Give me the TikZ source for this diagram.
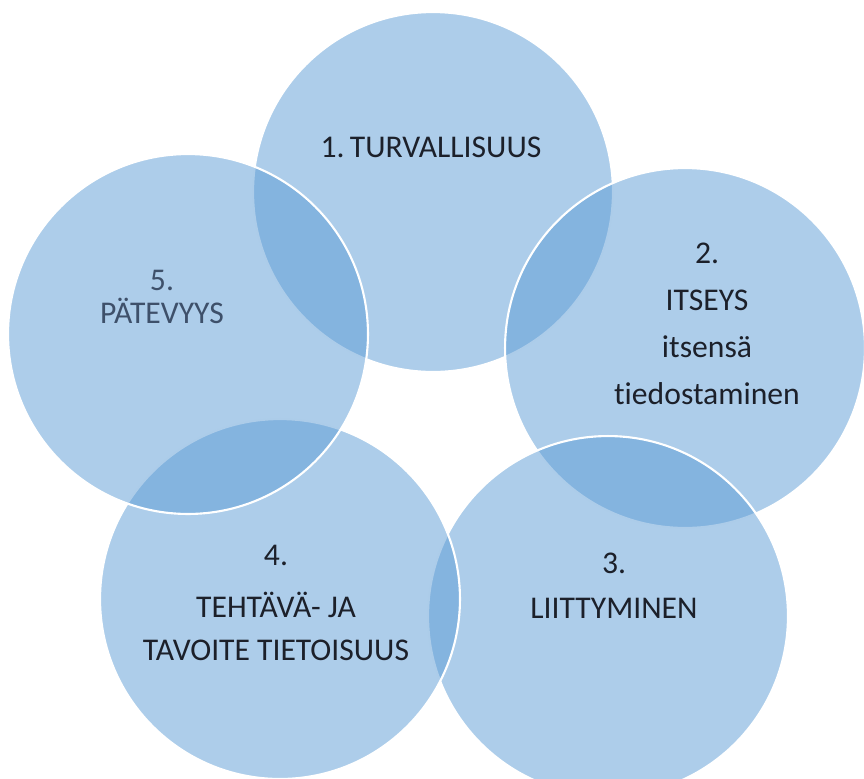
\documentclass[tikz,border=0pt]{standalone}
\usepackage{fontspec}
\setmainfont{Carlito}[Ligatures=NoCommon]
\usetikzlibrary{positioning}
\definecolor{ringcolor}{RGB}{91, 155, 213}
\definecolor{textcolor}{RGB}{28, 32, 42}
\definecolor{greytext}{RGB}{62, 80, 106}
\tikzstyle{ring} = [
    circle,
    minimum size=7.2cm,
    inner sep=0pt,
    draw=white,
    line width=1.2pt,
    fill=ringcolor,
    fill opacity=0.5
]
\tikzstyle{label} = [
    align=center,
    text=textcolor,
    font=\fontsize{18}{26.8}\selectfont
]
\begin{document}
\begin{tikzpicture}[x=0.02cm, y=-0.02cm]

\useasboundingbox (0, 0) rectangle (864, 778);

% Circles - drawn in order 1 to 5
\node[ring] (ring1) at (433, 192) {};
\node[ring] (ring2) at (685, 348) {};
\node[ring] (ring3) at (608, 616) {};
\node[ring] (ring4) at (280, 599) {};
\node[ring] (ring5) at (188, 334) {};

% Labels
\node[label] (text1) at (431, 147) {1.\,TURVALLISUUS};
\node[label] (text2) at (707, 324) {2.\\ITSEYS\\itsensä\\tiedostaminen};
\node[label, font=\fontsize{18}{25.5}\selectfont] (text3) at (614, 586) {3.\\LIITTYMINEN};
\node[label, font=\fontsize{18}{24.4}\selectfont] (text4) at (276, 603) {4.\\[5pt]TEHTÄVÄ- JA\\TAVOITE TIETOISUUS};
\node[label, text=greytext, font=\fontsize{18}{18.7}\selectfont] (text5) at (162, 297) {5.\\PÄTEVYYS};

\end{tikzpicture}
\end{document}
